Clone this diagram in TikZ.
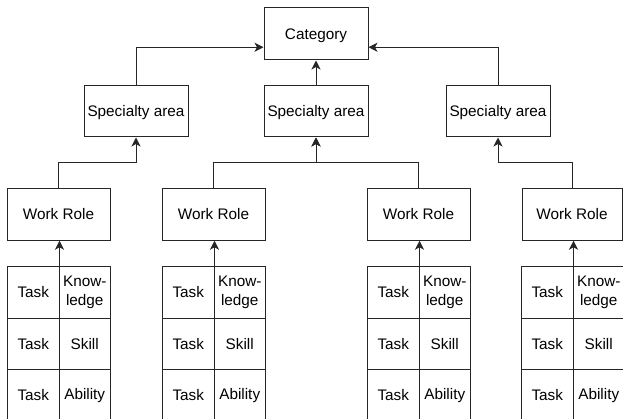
\documentclass[tikz,border=0pt]{standalone}
\usepackage{fontspec}
\setmainfont{Liberation Sans}
\usetikzlibrary{arrows.meta,calc}
\tikzset{
  box/.style={draw=black!85, line width=1pt, minimum width=103pt, minimum height=51.5pt, inner sep=0pt, font=\fontsize{15.3}{19}\selectfont, text height=11pt, text depth=0pt, align=center},
  cell/.style={draw=black!85, line width=1pt, minimum width=51.5pt, minimum height=51.5pt, inner sep=0pt, font=\fontsize{15.3}{19}\selectfont, align=center, anchor=north west},
  conn/.style={draw=black!85, line width=1pt, -{Stealth[length=9pt,width=9pt,inset=2.5pt]}}
}
\begin{document}
\begin{tikzpicture}[x=1pt,y=-1pt]
\useasboundingbox (0,0) rectangle (623,419);
\fill[white] (0,0) rectangle (623,419);
% top
\node[box, minimum width=104pt, minimum height=52pt] (c) at (316,34) {Category};
\node[box, minimum width=104pt, minimum height=51pt] (s1) at (136,111.5) {Specialty area};
\node[box, minimum width=104pt, minimum height=51pt] (s2) at (316,111.5) {Specialty area};
\node[box, minimum width=104pt, minimum height=51pt] (s3) at (498,111.5) {Specialty area};
% work roles
\node[box] (w1) at (58.5,214.5) {Work Role};
\node[box] (w2) at (213.5,214.5) {Work Role};
\node[box] (w3) at (418.5,214.5) {Work Role};
\node[box, minimum width=100pt] (w4) at (572,214.5) {Work Role};
% grids
\foreach \g/\x in {1/7,2/162,3/367,4/521} {
  \node[cell] (g\g a) at (\x,266) {Task};
  \node[cell] (g\g b) at (\x+51.5,266) {Know-\\ledge};
  \node[cell] (g\g c) at (\x,317.5) {Task};
  \node[cell] (g\g d) at (\x+51.5,317.5) {Skill};
  \node[cell] (g\g e) at (\x,369) {Task};
  \node[cell] (g\g f) at (\x+51.5,369) {Ability};
}
% connectors grid -> work role
\draw[conn] (g1a.north east) -- (g1a.north east |- w1.south);
\draw[conn] (g2a.north east) -- (g2a.north east |- w2.south);
\draw[conn] (g3a.north east) -- (g3a.north east |- w3.south);
\draw[conn] (g4a.north east) -- (g4a.north east |- w4.south);
% work role -> specialty
\draw[conn] (w1.north) -- ++(0,-26) -| (s1.south);
\draw[conn] (w2.north) -- ++(0,-26) -| (s2.south);
\draw[conn] (w3.north) -- ++(0,-26) -| (s2.south);
\draw[conn] (w4.north) -- ++(0,-26) -| (s3.south);
% specialty -> category
\draw[conn] (s1.north) |- ($(c.south west)!0.25!(c.north west)$);
\draw[conn] (s2.north) -- (c.south);
\draw[conn] (s3.north) |- ($(c.south east)!0.25!(c.north east)$);
\end{tikzpicture}
\end{document}
